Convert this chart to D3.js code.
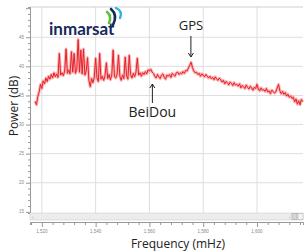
<!DOCTYPE html>
<html>
<head>
<meta charset="utf-8">
<script src="https://cdn.jsdelivr.net/npm/d3@7"></script>
<style>
  body { margin: 0; background: #fff; }
  svg { display: block; font-family: "Open Sans", "DejaVu Sans", sans-serif; }
</style>
</head>
<body>
<div id="vis"></div>
<script>
// spectrum trace, one value every 0.5 MHz from 1517.5 MHz
const freqStart = 1517.5;
const freqStep = 0.5;
const power = [
  34.0, 33.4, 34.8, 35.6, 36.9, 36.2, 37.5, 37.0, 38.0, 37.4,
  38.3, 37.8, 38.6, 38.0, 38.9, 38.2, 38.7, 38.1, 42.2, 38.5,
  38.9, 38.4, 39.2, 43.0, 38.8, 39.4, 38.7, 42.5, 39.0, 42.2,
  38.8, 39.5, 44.6, 39.0, 42.8, 38.7, 43.0, 38.5, 39.2, 41.5,
  37.6, 36.5, 37.9, 37.2, 38.1, 41.4, 38.0, 37.4, 42.2, 37.8,
  38.3, 37.6, 38.4, 40.6, 37.9, 38.6, 37.7, 38.5, 42.8, 38.2,
  38.0, 38.7, 41.9, 38.3, 37.6, 38.5, 37.9, 41.6, 38.4, 37.8,
  41.9, 38.6, 38.0, 38.8, 38.2, 39.0, 41.4, 38.5, 38.9, 38.3,
  38.9, 38.6, 39.1, 38.7, 39.4, 39.2, 39.5, 39.0, 38.8, 38.3,
  38.0, 38.6, 38.2, 37.9, 38.5, 38.7, 38.1, 37.8, 38.5, 38.3,
  38.6, 38.1, 38.8, 38.5, 38.3, 38.9, 39.0, 38.6, 38.9, 38.7,
  39.1, 38.8, 39.3, 39.2, 39.7, 40.2, 40.7, 39.8, 39.2, 38.9,
  39.0, 38.6, 38.8, 38.3, 38.7, 38.5, 38.2, 38.6, 38.3, 38.0,
  38.3, 37.9, 38.1, 37.7, 38.2, 37.8, 37.6, 38.0, 37.7, 37.3,
  37.6, 37.0, 37.4, 37.2, 36.8, 37.3, 37.1, 36.7, 37.2, 36.8,
  36.9, 36.6, 37.0, 36.3, 36.7, 36.5, 36.2, 36.8, 36.4, 36.1,
  36.6, 36.3, 35.9, 36.4, 36.2, 36.9, 36.1, 35.8, 36.3, 35.9,
  36.0, 35.7, 36.2, 35.6, 35.8, 35.3, 35.9, 35.7, 35.4, 35.6,
  36.3, 36.9, 35.8, 35.3, 35.7, 35.2, 35.5, 34.9, 35.2, 34.7,
  34.9, 34.5, 34.7, 33.9, 34.4, 33.5, 34.1, 33.4, 34.3, 33.9
];
const xTicks = [1520, 1540, 1560, 1580, 1600];
const yTicks = [15, 20, 25, 30, 35, 40, 45];
const markers = [
  {name: "GPS", freq: 1575.42},
  {name: "BeiDou", freq: 1561.1}
];

const width = 307, height = 251;
const plot = {left: 30, right: 303, top: 7, bottom: 213};

const x = d3.scaleLinear().domain([1515.6, 1617.1]).range([plot.left, plot.right]);
const y = d3.scaleLinear().domain([14.8, 50.2]).range([plot.bottom, plot.top]);

const svg = d3.select("#vis").append("svg")
    .attr("width", width).attr("height", height);

// grid
svg.append("g").selectAll("line").data(xTicks).join("line")
    .attr("x1", d => x(d)).attr("x2", d => x(d))
    .attr("y1", plot.top).attr("y2", plot.bottom)
    .attr("stroke", "#dedede");
svg.append("g").selectAll("line").data(yTicks.filter(d => d > 15)).join("line")
    .attr("x1", plot.left).attr("x2", plot.right)
    .attr("y1", d => y(d)).attr("y2", d => y(d))
    .attr("stroke", "#dedede");
svg.append("line")
    .attr("x1", plot.left).attr("x2", plot.right)
    .attr("y1", plot.top).attr("y2", plot.top)
    .attr("stroke", "#cfcfcf");

// y axis with minor ticks
const yAxis = svg.append("g").attr("transform", `translate(${plot.left},0)`);
yAxis.call(d3.axisLeft(y).tickValues(d3.range(15, 51, 1)).tickSize(2).tickFormat(""));
yAxis.call(g => g.selectAll(".tick").filter(d => d % 5 === 0).select("line").attr("x2", -4));
yAxis.append("g").selectAll("text").data(yTicks).join("text")
    .attr("x", -6).attr("y", d => y(d)).attr("dy", "0.35em")
    .attr("text-anchor", "end").attr("font-size", 4.5).attr("fill", "#888")
    .text(d => d);
yAxis.selectAll("path, line").attr("stroke", "#999");

// scrollbar strip under the plot
svg.append("rect")
    .attr("x", plot.left).attr("y", plot.bottom)
    .attr("width", plot.right - plot.left).attr("height", 7)
    .attr("fill", "#ececec").attr("stroke", "#d0d0d0").attr("stroke-width", 0.6);
svg.append("text").attr("x", 32).attr("y", 219).attr("font-size", 5).attr("fill", "#999").text("‹");
svg.append("text").attr("x", 289).attr("y", 219).attr("font-size", 5).attr("fill", "#999").text("›");
svg.append("rect").attr("x", 292).attr("y", 213.5).attr("width", 5).attr("height", 6)
    .attr("fill", "#d6d6d6").attr("stroke", "#999").attr("stroke-width", 0.5);
svg.append("rect").attr("x", 298).attr("y", 213.5).attr("width", 5).attr("height", 6)
    .attr("fill", "#f4f4f4").attr("stroke", "#aaa").attr("stroke-width", 0.5);

// x axis with minor ticks
const xAxis = svg.append("g").attr("transform", "translate(0,222)");
xAxis.call(d3.axisBottom(x).tickValues(d3.range(1516, 1618, 4)).tickSize(3).tickFormat(""));
xAxis.call(g => g.selectAll(".tick").filter(d => d % 20 === 0).select("line").attr("y2", 5));
xAxis.append("g").selectAll("text").data(xTicks).join("text")
    .attr("x", d => x(d)).attr("y", 11)
    .attr("text-anchor", "middle").attr("font-size", 4.5).attr("fill", "#888")
    .text(d => d3.format(",")(d));
xAxis.selectAll("path, line").attr("stroke", "#999");

// trace: soft halo under a thin core line, like the noisy analyser trace
const trace = power.map((v, i) => [freqStart + i * freqStep, v]);
const line = d3.line().x(d => x(d[0])).y(d => y(d[1]));
svg.append("path")
    .datum(trace)
    .attr("fill", "none")
    .attr("stroke", "#f25a5a")
    .attr("stroke-opacity", 0.45)
    .attr("stroke-width", 3)
    .attr("stroke-linejoin", "round")
    .attr("d", line);
svg.append("path")
    .datum(trace)
    .attr("fill", "none")
    .attr("stroke", "#e8202a")
    .attr("stroke-width", 1)
    .attr("stroke-linejoin", "round")
    .attr("d", line);

// annotations
const arrowHead = (cx, cy, dir) =>
    `M${cx - 2.5},${cy - 4 * dir}L${cx},${cy}L${cx + 2.5},${cy - 4 * dir}`;

const gps = x(markers[0].freq);
svg.append("text").attr("x", gps).attr("y", 30)
    .attr("text-anchor", "middle").attr("font-size", 13).attr("fill", "#222")
    .text(markers[0].name);
svg.append("line").attr("x1", gps).attr("x2", gps).attr("y1", 36).attr("y2", 57)
    .attr("stroke", "#222").attr("stroke-width", 1);
svg.append("path").attr("d", arrowHead(gps, 57, 1))
    .attr("fill", "none").attr("stroke", "#222").attr("stroke-width", 1);

const bd = x(markers[1].freq);
svg.append("line").attr("x1", bd).attr("x2", bd).attr("y1", 84).attr("y2", 103)
    .attr("stroke", "#222").attr("stroke-width", 1);
svg.append("path").attr("d", arrowHead(bd, 84, -1))
    .attr("fill", "none").attr("stroke", "#222").attr("stroke-width", 1);
svg.append("text").attr("x", bd).attr("y", 117)
    .attr("text-anchor", "middle").attr("font-size", 14).attr("fill", "#222")
    .text(markers[1].name);

// axis titles
svg.append("text")
    .attr("transform", "translate(18,106) rotate(-90)")
    .attr("text-anchor", "middle").attr("font-size", 12).attr("fill", "#222")
    .text("Power (dB)");
svg.append("text").attr("x", 178).attr("y", 248)
    .attr("text-anchor", "middle").attr("font-size", 12).attr("fill", "#222")
    .text("Frequency (mHz)");

// inmarsat logo
svg.append("text").attr("x", 49).attr("y", 35)
    .attr("font-size", 17).attr("font-weight", "bold").attr("fill", "#16295b")
    .attr("font-family", "Lato, 'Open Sans', sans-serif")
    .text("inmarsat");
const logo = svg.append("g").attr("fill", "none").attr("stroke-linecap", "round");
logo.append("path").attr("d", "M107,12 Q112,16 109,23").attr("stroke", "#5fbf3a").attr("stroke-width", 2.6);
logo.append("path").attr("d", "M111,9 Q118,15 113,25").attr("stroke", "#16295b").attr("stroke-width", 2.6);
logo.append("path").attr("d", "M116,8 Q123,11 120,18").attr("stroke", "#2bb5e0").attr("stroke-width", 2.4);
</script>
</body>
</html>
